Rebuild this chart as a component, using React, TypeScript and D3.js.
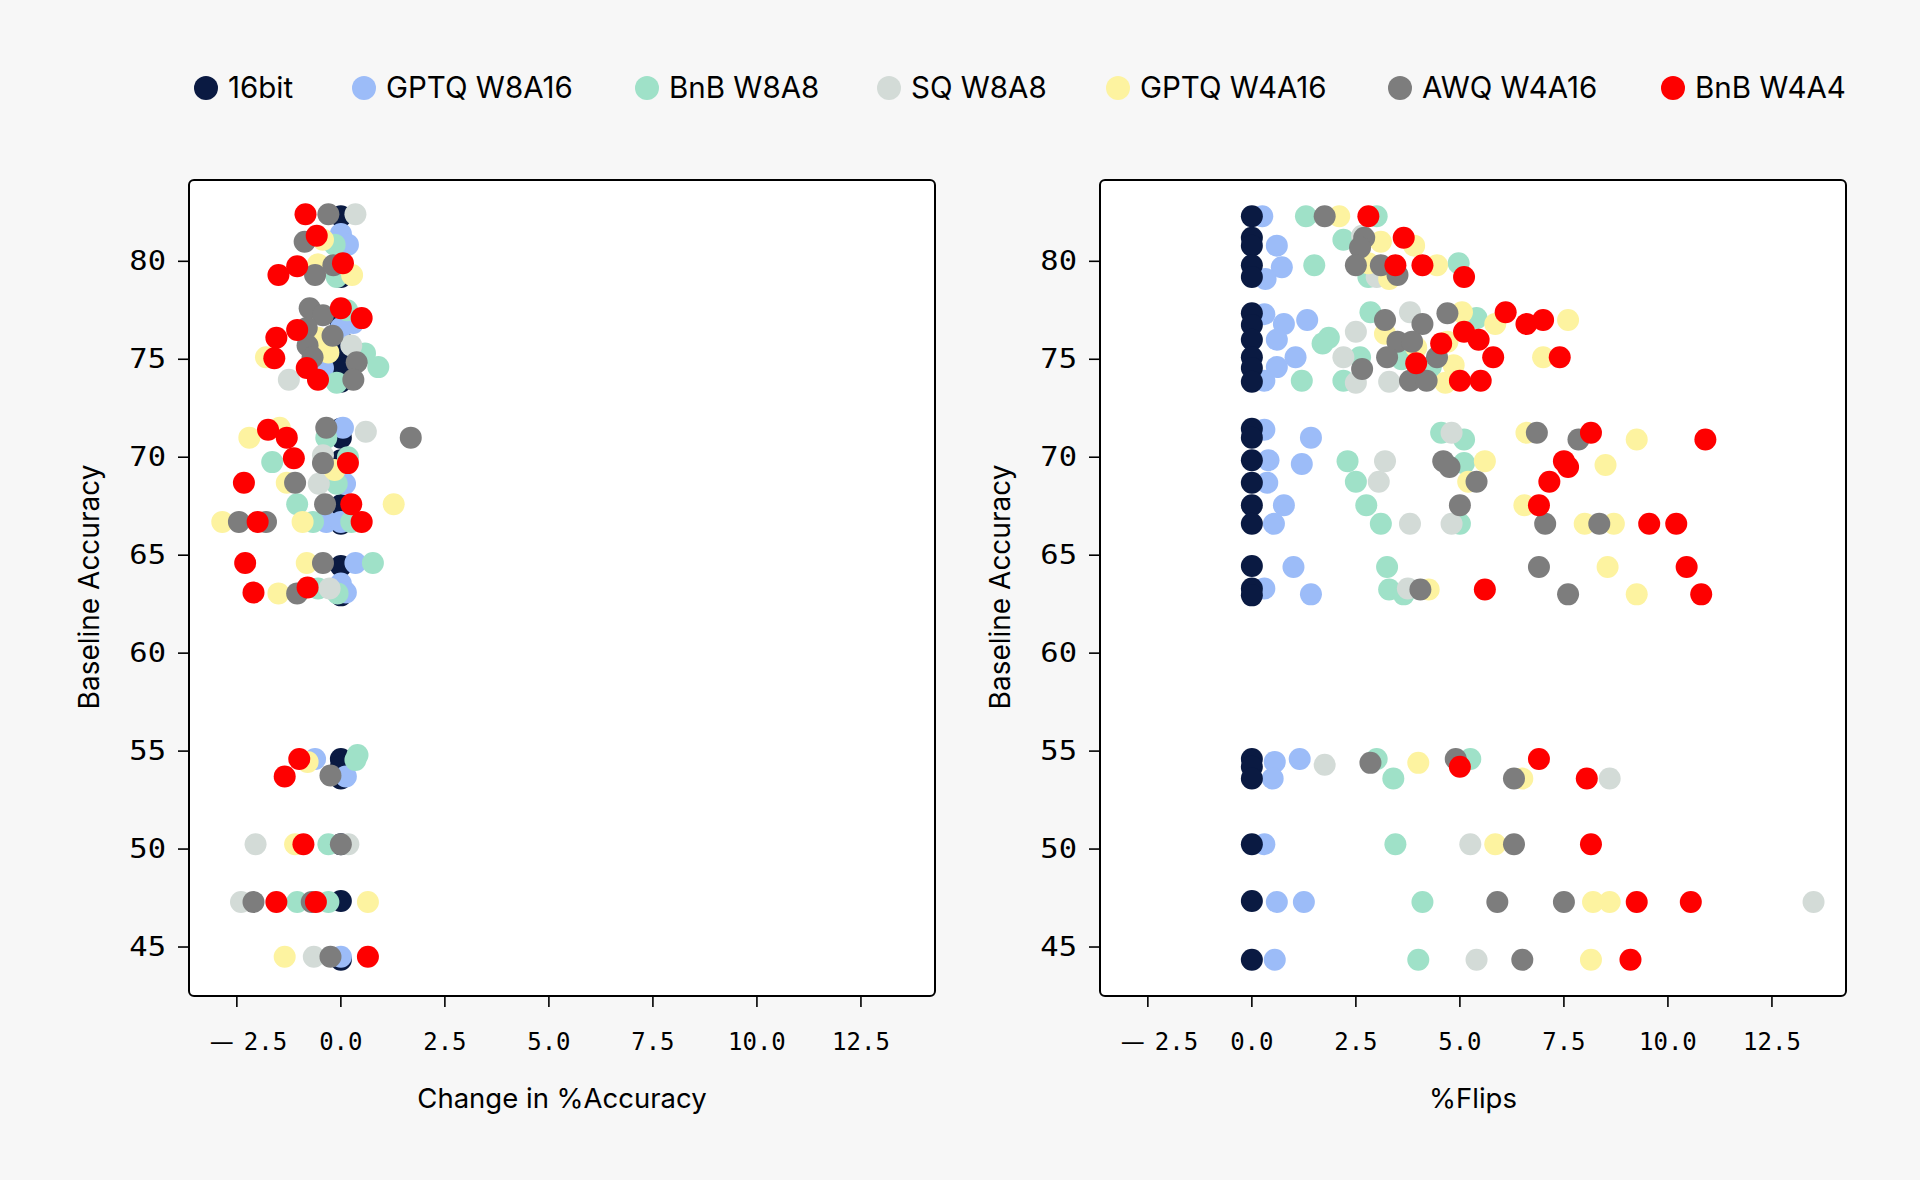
import React from 'react';
import * as d3 from 'd3';

// methods, in legend order
const methods = ['16bit', 'GPTQ W8A16', 'BnB W8A8', 'SQ W8A8', 'GPTQ W4A16', 'AWQ W4A16', 'BnB W4A4'];
const colors = ['#0a1a42', '#9cbcf8', '#9fe1c8', '#d3dbd7', '#fdf3a0', '#7d7d7d', '#fe0000'];

// baseline accuracy of every model (16bit sits at 0 in both panels)
const baselines = [
  82.3, 81.2, 80.8, 79.8, 79.2, 77.35, 76.75, 76.0, 75.1, 74.55, 73.85, 71.45, 71.0, 69.85, 68.7, 67.55,
  66.6, 64.45, 63.3, 62.95, 54.6, 54.2, 53.6, 50.25, 47.35, 44.35,
];

// [baseline accuracy, change in %accuracy]
const gptqW8A16Delta = [
  [81.4, 0], [80.85, 0.17], [76.85, 0.3], [76.6, 0], [74.55, -0.43], [71.5, 0.05], [68.65, 0.1], [66.7, -0.35],
  [66.7, 0], [64.6, 0.35], [63.55, 0.0], [63.1, 0.12], [54.6, -0.62], [53.7, 0.12], [44.5, 0.0],
];
const bnbW8A8Delta = [
  [80.85, -0.15], [79.2, -0.1], [77.5, 0.15], [75.3, 0.58], [74.6, 0.9], [73.8, -0.1], [71.0, -0.35], [69.75, -1.65],
  [70.0, 0.17], [68.65, -0.1], [67.6, -1.05], [66.7, -0.67], [66.7, 0.25], [64.6, 0.77], [63.3, -0.55],
  [63.05, -0.08], [54.8, 0.4], [54.55, 0.35], [50.25, -0.3], [47.3, -1.05], [47.3, -0.3],
];
const sqW8A8Delta = [
  [82.4, 0.35], [75.7, 0.25], [73.95, -1.25], [71.3, 0.6], [70.1, -0.43], [68.65, -0.53], [63.3, -0.27],
  [50.25, -2.05], [50.25, 0.18], [47.3, -2.4], [44.5, -0.65],
];
const gptqW4A16Delta = [
  [81.1, -0.43], [79.85, -0.55], [79.3, 0.27], [76.1, -0.55], [75.35, -0.3], [75.1, -1.8], [71.0, -2.2],
  [71.5, -1.47], [69.35, -0.15], [68.7, -1.3], [67.6, 1.27], [66.7, -2.85], [66.7, -0.92], [64.6, -0.82],
  [63.05, -1.5], [54.45, -0.8], [50.25, -1.1], [47.3, 0.65], [44.5, -1.35],
];
const awqW4A16Delta = [
  [82.4, -0.3], [81.0, -0.87], [79.3, -0.62], [79.8, -0.18], [77.6, -0.75], [77.25, -0.43], [76.6, -0.82],
  [75.7, -0.8], [76.2, -0.2], [75.1, -0.68], [74.85, 0.38], [73.95, 0.3], [71.5, -0.35], [71.0, 1.68],
  [69.7, -0.43], [68.7, -1.1], [67.6, -0.38], [66.7, -2.45], [66.7, -1.8], [64.6, -0.43], [63.05, -1.05],
  [53.75, -0.25], [50.25, 0.0], [47.3, -2.1], [47.3, -0.7], [44.5, -0.25],
];
const bnbW4A4Delta = [
  [82.4, -0.85], [81.3, -0.58], [79.3, -1.5], [79.75, -1.05], [79.9, 0.05], [77.6, 0.0], [77.1, 0.5],
  [76.1, -1.55], [76.5, -1.05], [75.05, -1.6], [74.55, -0.82], [73.95, -0.55], [71.4, -1.75], [71.0, -1.3],
  [69.95, -1.13], [69.7, 0.17], [68.7, -2.33], [67.6, 0.25], [66.7, -2.0], [66.7, 0.5], [64.6, -2.3],
  [63.1, -2.1], [63.35, -0.8], [54.6, -1.0], [53.7, -1.35], [50.25, -0.9], [47.3, -1.55], [47.3, -0.6],
  [44.5, 0.65],
];

// [baseline accuracy, %flips]
const gptqW8A16Flips = [
  [82.3, 0.25], [80.8, 0.6], [79.7, 0.72], [79.1, 0.33], [77.3, 0.3], [76.8, 0.77], [77.0, 1.33], [76.0, 0.6],
  [75.1, 1.05], [74.6, 0.6], [73.9, 0.3], [71.4, 0.3], [71.0, 1.42], [69.85, 0.4], [69.65, 1.2], [68.7, 0.37],
  [67.55, 0.77], [66.6, 0.53], [64.4, 1.0], [63.3, 0.3], [63.0, 1.42], [54.45, 0.55], [54.6, 1.15],
  [53.6, 0.5], [50.25, 0.3], [47.3, 0.6], [47.3, 1.25], [44.35, 0.55],
];
const bnbW8A8Flips = [
  [82.3, 1.3], [82.3, 3.0], [81.1, 2.2], [79.8, 1.5], [79.2, 2.8], [79.9, 4.97], [77.4, 2.85], [77.1, 5.4],
  [76.1, 1.85], [75.8, 1.7], [75.1, 2.6], [75.0, 3.6], [74.6, 4.3], [73.9, 1.2], [73.9, 2.2], [71.25, 4.55],
  [70.9, 5.1], [69.8, 2.3], [69.7, 5.1], [68.75, 2.5], [67.55, 2.75], [66.6, 3.1], [66.6, 5.0], [64.4, 3.25],
  [63.25, 3.3], [63.0, 3.65], [54.6, 3.0], [53.6, 3.4], [54.6, 5.25], [50.25, 3.45], [47.3, 4.1], [44.35, 4.0],
];
const sqW8A8Flips = [
  [81.3, 2.65], [79.2, 3.0], [76.4, 2.5], [75.1, 2.2], [73.8, 2.5], [73.85, 3.3], [77.4, 3.8], [71.25, 4.8],
  [69.8, 3.2], [68.75, 3.05], [66.6, 3.8], [66.6, 4.8], [63.3, 3.75], [54.3, 1.75], [53.6, 8.6],
  [50.25, 5.25], [47.3, 13.5], [44.35, 5.4],
];
const gptqW4A16Flips = [
  [82.3, 2.1], [81.0, 3.1], [80.8, 3.9], [79.9, 2.8], [79.1, 3.3], [79.8, 4.45], [77.4, 5.05], [76.3, 3.2],
  [75.6, 3.95], [75.9, 4.7], [74.7, 4.85], [73.8, 4.65], [76.8, 5.85], [77.0, 7.6], [75.1, 7.0],
  [71.25, 6.6], [70.9, 9.25], [69.8, 5.6], [69.6, 8.5], [68.75, 5.2], [67.55, 6.55], [66.6, 8.0],
  [66.6, 8.7], [64.4, 8.55], [63.25, 4.25], [63.0, 9.25], [54.4, 4.0], [53.6, 6.5], [50.25, 5.85],
  [47.3, 8.2], [47.3, 8.6], [44.35, 8.15],
];
const awqW4A16Flips = [
  [82.3, 1.75], [81.2, 2.7], [80.7, 2.6], [79.8, 2.5], [79.8, 3.1], [79.3, 3.5], [77.0, 3.2], [76.8, 4.1],
  [77.35, 4.7], [75.9, 3.5], [75.9, 3.85], [75.1, 3.25], [75.1, 4.45], [74.5, 2.65], [73.9, 3.8],
  [73.9, 4.2], [71.25, 6.85], [70.9, 7.85], [69.8, 4.6], [69.5, 4.75], [68.75, 5.4], [67.55, 5.0],
  [66.6, 7.05], [66.6, 8.35], [64.4, 6.9], [63.25, 4.05], [63.0, 7.6], [54.4, 2.85], [54.6, 4.9],
  [53.6, 6.3], [50.25, 6.3], [47.3, 5.9], [47.3, 7.5], [44.35, 6.5],
];
const bnbW4A4Flips = [
  [82.3, 2.8], [81.2, 3.65], [79.8, 3.45], [79.8, 4.1], [79.2, 5.1], [74.8, 3.95], [75.8, 4.55], [73.9, 5.0],
  [73.9, 5.5], [76.4, 5.1], [76.0, 5.45], [75.1, 5.8], [77.4, 6.1], [76.8, 6.6], [77.0, 7.0], [75.1, 7.4],
  [71.25, 8.15], [70.9, 10.9], [69.8, 7.5], [69.5, 7.6], [68.75, 7.15], [67.55, 6.9], [66.6, 9.55],
  [66.6, 10.2], [64.4, 10.45], [63.25, 5.6], [63.0, 10.8], [54.2, 5.0], [54.6, 6.9], [53.6, 8.05],
  [50.25, 8.15], [47.3, 9.25], [47.3, 10.55], [44.35, 9.1],
];

const xTicks = [-2.5, 0, 2.5, 5, 7.5, 10, 12.5];
const yTicks = [45, 50, 55, 60, 65, 70, 75, 80];

const W = 1920;
const H = 1180;
const PANEL_TOP = 180;
const PANEL_BOTTOM = 996;
const R = 11;
const tickFont = '"DejaVu Sans Mono", monospace';
const labelFont = 'Inter, "Noto Sans", sans-serif';

const y = d3.scaleLinear().domain([42.5, 84.15]).range([PANEL_BOTTOM, PANEL_TOP]);
const fmt = d3.format('.1f');

interface PanelProps {
  left: number;
  right: number;
  title: string;
  series: number[][][];
  baseOnTop: boolean;
}

const Panel = ({ left, right, title, series, baseOnTop }: PanelProps) => {
  const x = d3.scaleLinear().domain([-3.65, 14.28]).range([left, right]);
  const base = { pts: baselines.map((b) => [b, 0]), color: colors[0] };
  const others = series.map((pts, i) => ({ pts, color: colors[i + 1] }));
  const layers = baseOnTop ? [...others, base] : [base, ...others];

  return (
    <g>
      <rect
        x={left}
        y={PANEL_TOP}
        width={right - left}
        height={PANEL_BOTTOM - PANEL_TOP}
        rx={5}
        fill="#ffffff"
        stroke="#000"
        strokeWidth={2}
      />
      {layers.map((l, i) => (
        <g key={i}>
          {l.pts.map((d, j) => (
            <circle key={j} cx={x(d[1])} cy={y(d[0])} r={R} fill={l.color} />
          ))}
        </g>
      ))}
      {xTicks.map((t) => (
        <g key={t}>
          <line x1={x(t)} x2={x(t)} y1={PANEL_BOTTOM} y2={PANEL_BOTTOM + 11} stroke="#000" strokeWidth={1.6} />
          {t < 0 ? (
            <text x={x(t) - 27} y={1050} fontFamily={tickFont} fontSize={24}>
              <tspan fontFamily='"DejaVu Sans", sans-serif'>{'\u2014'}</tspan>
              <tspan dx={10}>{fmt(-t)}</tspan>
            </text>
          ) : (
            <text x={x(t)} y={1050} textAnchor="middle" fontFamily={tickFont} fontSize={24}>
              {fmt(t)}
            </text>
          )}
        </g>
      ))}
      {yTicks.map((t) => (
        <g key={t}>
          <line x1={left - 11} x2={left} y1={y(t)} y2={y(t)} stroke="#000" strokeWidth={1.6} />
          <text
            transform={`translate(${left - 23},${y(t) + 9}) scale(1.15,1)`}
            textAnchor="end"
            fontFamily={tickFont}
            fontSize={26.5}
          >
            {t}
          </text>
        </g>
      ))}
      <text x={(left + right) / 2} y={1108} textAnchor="middle" fontFamily={labelFont} fontSize={27.5}>
        {title}
      </text>
      <text
        transform={`translate(${left - 90},${(PANEL_TOP + PANEL_BOTTOM) / 2 - 1}) rotate(-90)`}
        textAnchor="middle"
        fontFamily={labelFont}
        fontSize={28}
      >
        Baseline Accuracy
      </text>
    </g>
  );
};

const legendX = [206, 364, 647, 889, 1118, 1400, 1673];

export default function App() {
  return (
    <div style={{ position: 'absolute', left: 0, top: 0 }}>
      <svg width={W} height={H} viewBox={`0 0 ${W} ${H}`} style={{ display: 'block', background: '#f7f7f7' }}>
        {methods.map((m, i) => (
          <g key={m}>
            <circle cx={legendX[i]} cy={88} r={12} fill={colors[i]} />
            <text x={legendX[i] + 22} y={98} fontFamily={labelFont} fontSize={29.5}>
              {m}
            </text>
          </g>
        ))}
        <Panel
          left={189}
          right={935}
          title="Change in %Accuracy"
          baseOnTop={false}
          series={[gptqW8A16Delta, bnbW8A8Delta, sqW8A8Delta, gptqW4A16Delta, awqW4A16Delta, bnbW4A4Delta]}
        />
        <Panel
          left={1100}
          right={1846}
          title="%Flips"
          baseOnTop={true}
          series={[gptqW8A16Flips, bnbW8A8Flips, sqW8A8Flips, gptqW4A16Flips, awqW4A16Flips, bnbW4A4Flips]}
        />
      </svg>
    </div>
  );
}
